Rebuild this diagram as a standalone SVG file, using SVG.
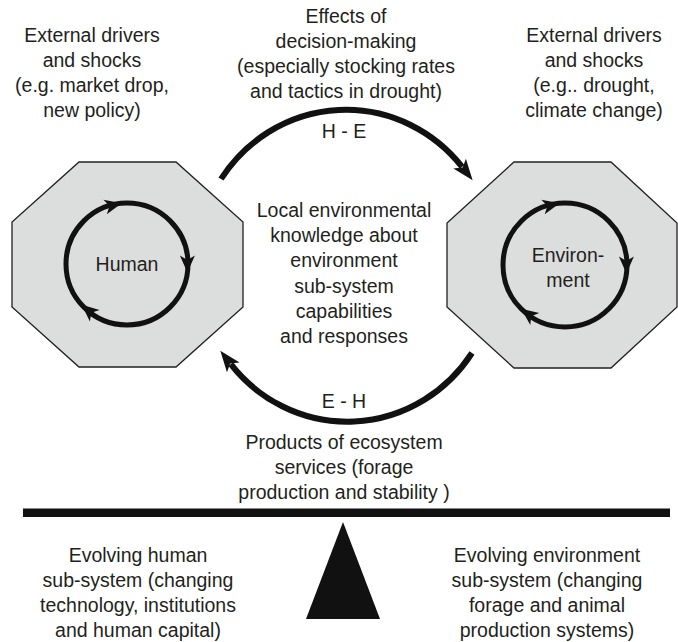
<svg xmlns="http://www.w3.org/2000/svg" xmlns:xlink="http://www.w3.org/1999/xlink" width="678" height="642" viewBox="0 0 678 642">
<style>
text{font-family:"Liberation Sans",Arial,sans-serif;font-size:19.5px;fill:#231f20;text-anchor:middle}
.oct{fill:#dcdddd;stroke:#231f20;stroke-width:1.3}
.ring{fill:none;stroke:#111;stroke-width:5}
.arc{fill:none;stroke:#111;stroke-width:6}
</style>
<defs>
<path id="ah" d="M0,0 L-17,-7.5 L-12.5,0 L-17,7.5 Z" fill="#111"/>
<marker id="bigHead" markerUnits="userSpaceOnUse" markerWidth="26" markerHeight="20" refX="4" refY="9" orient="auto" overflow="visible">
<path d="M0,1 L21,9 L0,17 L5,9 Z" fill="#111"/>
</marker>
</defs>

<g id="human">
<polygon class="oct" points="79,162 176,162 243,222 243,307 176,367 79,367 12,307 12,222"/>
<circle class="ring" cx="127" cy="264" r="61"/>
<use xlink:href="#ah" transform="translate(121.7,203.2) rotate(-13)"/>
<use xlink:href="#ah" transform="translate(187.4,272.5) rotate(90)"/>
<use xlink:href="#ah" transform="translate(81.7,304.8) rotate(220)"/>
<text x="127" y="271">Human</text>
</g>

<g id="environment">
<polygon class="oct" points="514,162 611,162 677,223 677,307 611,368 514,368 447,307 447,223"/>
<circle class="ring" cx="565" cy="265" r="62"/>
<use xlink:href="#ah" transform="translate(559.6,203.2) rotate(-13)"/>
<use xlink:href="#ah" transform="translate(626.4,273.6) rotate(90)"/>
<use xlink:href="#ah" transform="translate(521.2,308.8) rotate(217)"/>
<text x="568" y="262">Environ-</text>
<text x="568" y="287">ment</text>
</g>

<g id="connectors">
<path class="arc" d="M221,179 A150,155 0 0 1 462.1,166.8" marker-end="url(#bigHead)"/>
<path class="arc" d="M472,353 A150,155 0 0 1 230.8,364.2" marker-end="url(#bigHead)"/>
<text x="344" y="138">H - E</text>
<text x="344" y="408">E - H</text>
</g>

<g id="external-human">
<text x="92" y="42">External drivers</text>
<text x="92" y="67">and shocks</text>
<text x="92" y="92">(e.g. market drop,</text>
<text x="92" y="117">new policy)</text>
</g>

<g id="effects">
<text x="346" y="23">Effects of</text>
<text x="346" y="48">decision-making</text>
<text x="346" y="73">(especially stocking rates</text>
<text x="346" y="98">and tactics in drought)</text>
</g>

<g id="external-env">
<text x="594" y="42">External drivers</text>
<text x="594" y="67">and shocks</text>
<text x="594" y="92">(e.g.. drought,</text>
<text x="594" y="117">climate change)</text>
</g>

<g id="knowledge">
<text x="344" y="217">Local environmental</text>
<text x="344" y="242">knowledge about</text>
<text x="344" y="267">environment</text>
<text x="344" y="293">sub-system</text>
<text x="344" y="318">capabilities</text>
<text x="344" y="343">and responses</text>
</g>

<g id="products">
<text x="344" y="449">Products of ecosystem</text>
<text x="344" y="474">services (forage</text>
<text x="344" y="499">production and stability )</text>
</g>

<g id="balance">
<rect x="23" y="508.5" width="647" height="8.5" fill="#111"/>
<polygon points="343,522 380,619 306,619" fill="#111"/>
</g>

<g id="human-subsystem">
<text x="138" y="562">Evolving human</text>
<text x="138" y="587">sub-system (changing</text>
<text x="138" y="612">technology, institutions</text>
<text x="138" y="637">and human capital)</text>
</g>

<g id="env-subsystem">
<text x="547" y="562">Evolving environment</text>
<text x="547" y="587">sub-system (changing</text>
<text x="547" y="612">forage and animal</text>
<text x="547" y="637">production systems)</text>
</g>
</svg>
